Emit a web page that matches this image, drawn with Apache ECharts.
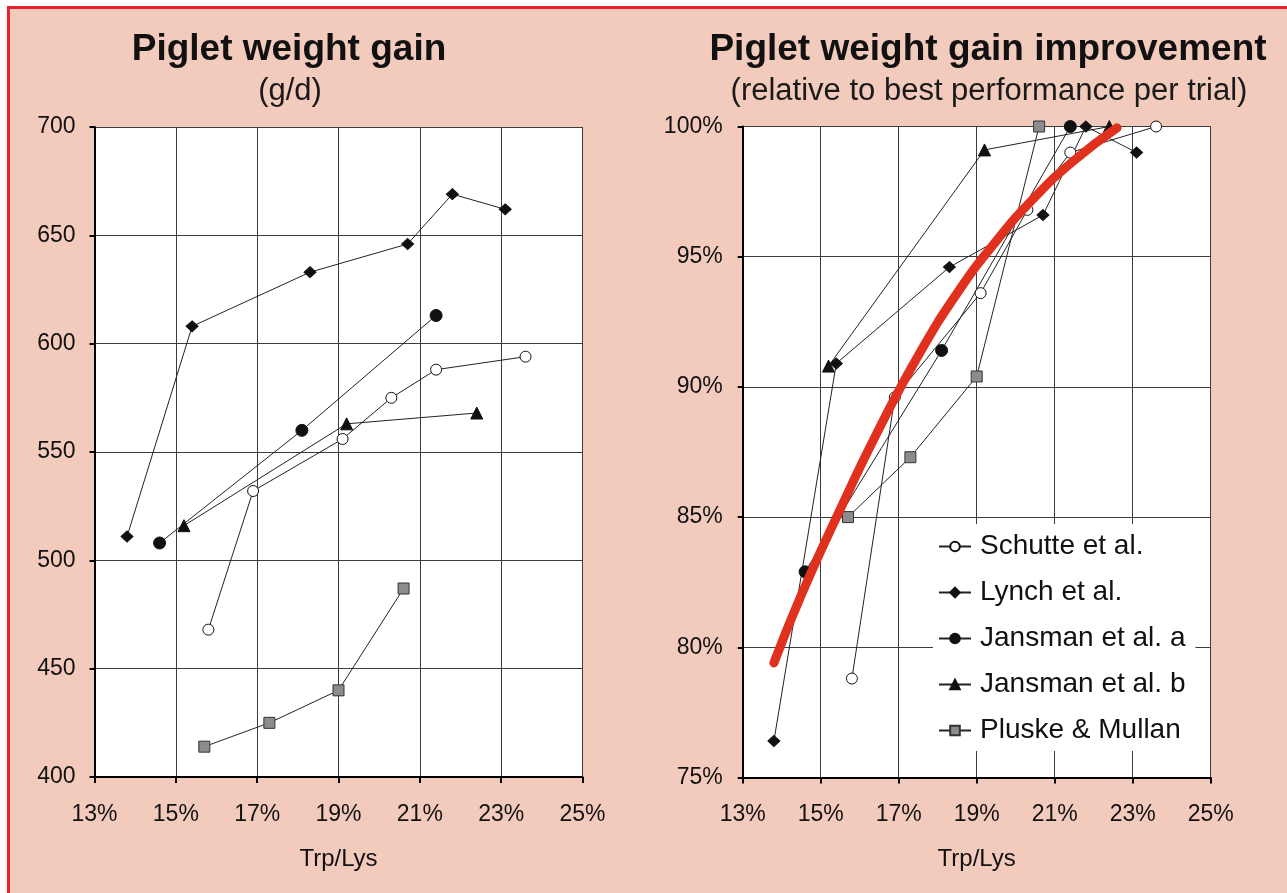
<!DOCTYPE html>
<html>
<head>
<meta charset="utf-8">
<script src="https://cdn.jsdelivr.net/npm/echarts@6/dist/echarts.min.js"></script>
<style>
html,body{margin:0;padding:0;background:#fff;}
#bg{position:absolute;left:7px;top:6px;width:1280px;height:887px;background:#f3cbbd;border-left:3px solid #e8232b;border-top:3px solid #e8232b;box-sizing:border-box;}
#chart{position:absolute;left:0;top:0;width:1287px;height:893px;}
</style>
</head>
<body>
<div id="bg"></div>
<div id="chart"></div>
<script>
// ---- data ----
const seriesNames = ['Schutte et al.', 'Lynch et al.', 'Jansman et al. a', 'Jansman et al. b', 'Pluske & Mullan'];

const schutteX   = [15.8, 16.9, 19.1, 20.3, 21.4, 23.6];
const schutteGain= [468, 532, 556, 575, 588, 594];
const schutteRel = [78.8, 89.6, 93.6, 96.8, 99.0, 100];

const lynchX    = [13.8, 15.4, 18.3, 20.7, 21.8, 23.1];
const lynchGain = [511, 608, 633, 646, 669, 662];
const lynchRel  = [76.4, 90.9, 94.6, 96.6, 100, 99.0];

const jansAX    = [14.6, 18.1, 21.4];
const jansAGain = [508, 560, 613];
const jansARel  = [82.9, 91.4, 100];

const jansBX    = [15.2, 19.2, 22.4];
const jansBGain = [516, 563, 568];
const jansBRel  = [90.8, 99.1, 100];

const pluskeX    = [15.7, 17.3, 19.0, 20.6];
const pluskeGain = [414, 425, 440, 487];
const pluskeRel  = [85.0, 87.3, 90.4, 100];

// red trend curve, read along its path
const fitX = [13.8, 14.5, 15.5, 16.5, 17.5, 18.5, 19.5, 20.5, 21.5, 22.6];
const fitY = [79.4, 82.0, 85.3, 88.4, 91.2, 93.6, 95.6, 97.3, 98.7, 99.95];

const xTicks = [13, 15, 17, 19, 21, 23, 25];
const gainTicks = [400, 450, 500, 550, 600, 650, 700];
const relTicks = [75, 80, 85, 90, 95, 100];

// ---- helpers ----
const pair = (xs, ys) => xs.map((x, i) => [x, ys[i]]);
const FONT = "'Liberation Sans', Arial, sans-serif";

const styles = {
  'Schutte et al.':   {symbol: 'circle',   size: 11, color: '#ffffff', border: '#111'},
  'Lynch et al.':     {symbol: 'diamond',  size: [12, 11], color: '#111111', border: '#111'},
  'Jansman et al. a': {symbol: 'circle',   size: 12, color: '#111111', border: '#111'},
  'Jansman et al. b': {symbol: 'triangle', size: 12, color: '#111111', border: '#111'},
  'Pluske & Mullan':  {symbol: 'rect',     size: 11, color: '#8c8c8c', border: '#333'}
};

function mkSeries(name, data, xi, yi) {
  const s = styles[name];
  return {
    name: name, type: 'line', xAxisIndex: xi, yAxisIndex: yi, data: data,
    symbol: s.symbol, symbolSize: s.size, showSymbol: true,
    lineStyle: {color: '#222', width: 1},
    itemStyle: {color: s.color, borderColor: s.border, borderWidth: 1},
    z: 3, animation: false
  };
}

const leftData = [pair(schutteX, schutteGain), pair(lynchX, lynchGain), pair(jansAX, jansAGain), pair(jansBX, jansBGain), pair(pluskeX, pluskeGain)];
const rightData = [pair(schutteX, schutteRel), pair(lynchX, lynchRel), pair(jansAX, jansARel), pair(jansBX, jansBRel), pair(pluskeX, pluskeRel)];

const series = [];
seriesNames.forEach((n, i) => series.push(mkSeries(n, leftData[i], 0, 0)));
seriesNames.forEach((n, i) => series.push(mkSeries(n, rightData[i], 1, 1)));
series.push({
  name: 'fit', type: 'line', xAxisIndex: 1, yAxisIndex: 1, data: pair(fitX, fitY),
  smooth: 0.5, showSymbol: false, symbol: 'none',
  lineStyle: {color: '#e0301e', width: 9, cap: 'round'}, z: 5, animation: false
});

const GRID_COLOR = '#3c3c3c';

function xAxisCfg(gi) {
  return {
    type: 'value', gridIndex: gi, min: xTicks[0], max: xTicks[xTicks.length - 1], interval: 2,
    name: 'Trp/Lys', nameLocation: 'middle', nameGap: 70,
    nameTextStyle: {fontFamily: FONT, fontSize: 24, color: '#111'},
    axisLine: {show: true, onZero: false, lineStyle: {color: '#000', width: 2}},
    axisTick: {show: true, inside: false, length: 6, lineStyle: {color: '#000', width: 2}},
    axisLabel: {formatter: '{value}%', fontFamily: FONT, fontSize: 23, color: '#111', margin: 26},
    splitLine: {show: true, lineStyle: {color: GRID_COLOR, width: 1}}
  };
}
function yAxisCfg(gi, ticks, fmt, margin) {
  return {
    type: 'value', gridIndex: gi, min: ticks[0], max: ticks[ticks.length - 1], interval: ticks[1] - ticks[0],
    axisLine: {show: true, onZero: false, lineStyle: {color: '#000', width: 2}},
    axisTick: {show: true, inside: false, length: 5, lineStyle: {color: '#000', width: 2}},
    axisLabel: {formatter: fmt, fontFamily: FONT, fontSize: 23, color: '#111', margin: margin},
    splitLine: {show: true, lineStyle: {color: GRID_COLOR, width: 1}}
  };
}

const option = {
  animation: false,
  backgroundColor: 'transparent',
  title: [
    {text: 'Piglet weight gain', left: 284, top: 26, textAlign: 'center',
     textStyle: {fontFamily: FONT, fontSize: 37, fontWeight: 'bold', color: '#111'}},
    {text: '(g/d)', left: 285, top: 71, textAlign: 'center',
     textStyle: {fontFamily: FONT, fontSize: 31, fontWeight: 'normal', color: '#1a1a1a'}},
    {text: 'Piglet weight gain improvement', left: 983, top: 26, textAlign: 'center',
     textStyle: {fontFamily: FONT, fontSize: 37, fontWeight: 'bold', color: '#111'}},
    {text: '(relative to best performance per trial)', left: 984, top: 71, textAlign: 'center',
     textStyle: {fontFamily: FONT, fontSize: 31, fontWeight: 'normal', color: '#1a1a1a'}}
  ],
  grid: [
    {left: 94.5, top: 127, width: 488, height: 650, show: true, backgroundColor: '#fff', borderWidth: 0},
    {left: 742.7, top: 126.5, width: 468, height: 651, show: true, backgroundColor: '#fff', borderWidth: 0}
  ],
  xAxis: [xAxisCfg(0), xAxisCfg(1)],
  yAxis: [yAxisCfg(0, gainTicks, '{value}', 19), yAxisCfg(1, relTicks, '{value}%', 20)],
  legend: {
    data: seriesNames, orient: 'vertical', left: 933, top: 524,
    backgroundColor: '#fff', padding: [8, 10, 6, 5],
    itemWidth: 32, itemHeight: 12, itemGap: 17,
    textStyle: {fontFamily: FONT, fontSize: 28, color: '#111', lineHeight: 29, padding: [0, 0, 0, 4]},
    selectedMode: false
  },
  series: series
};

const chart = echarts.init(document.getElementById('chart'), null, {renderer: 'canvas'});
chart.setOption(option);
</script>
</body>
</html>
